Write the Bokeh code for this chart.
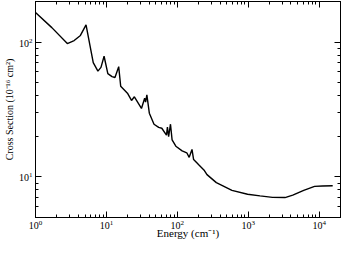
from bokeh.plotting import figure
from bokeh.models import LogAxis, FixedTicker, Range1d
from bokeh.embed import file_html
from bokeh.resources import INLINE

energy = [1.0, 1.7, 2.81, 3.51, 4.30, 5.16, 6.52, 7.59, 8.38, 9.27, 10.47, 12.0, 13.2, 14.9,
          15.9, 19.8, 22.6, 24.8, 31.2, 34.6, 35.7, 37.2, 40.3, 46.9, 54.6, 60.4, 70.3,
          72.5, 75.4, 80.1, 84.4, 95.3, 116.8, 135.9, 147.0, 161.0, 169.7, 203.6, 237.0,
          262.0, 355.0, 589.0, 979.0, 1466.0, 2197.0, 3300.0, 4247.0, 6058.0, 8614.0,
          11120.0, 15530.0]
cross = [166.0, 128.0, 97.5, 102.6, 112.0, 134.0, 70.4, 60.9, 64.9, 78.5, 58.3, 55.5, 54.6, 65.7,
         47.0, 41.8, 36.9, 39.3, 32.2, 38.3, 35.9, 40.6, 29.7, 24.6, 23.3, 22.96, 20.4,
         23.4, 19.9, 24.6, 18.8, 16.9, 15.6, 15.1, 13.98, 16.0, 13.46, 12.2, 11.27,
         10.4, 9.07, 7.94, 7.44, 7.24, 7.05, 7.03, 7.32, 7.94, 8.51, 8.56, 8.6]

x_major = [1, 10, 100, 1000, 10000]
x_minor = [m * d for d in [1, 10, 100, 1000] for m in range(2, 10)] + [20000]
y_major = [10, 100]
y_minor = [5, 6, 7, 8, 9] + [m * 10 for m in range(2, 10)] + [200]

FONT = "Liberation Serif"

p = figure(width=341, height=241, x_axis_type="log", y_axis_type="log",
           x_range=Range1d(1, 20000), y_range=Range1d(5, 200),
           output_backend="svg", toolbar_location=None,
           min_border_left=0, min_border_right=1, min_border_top=1, min_border_bottom=0)
p.background_fill_color = "white"
p.border_fill_color = "white"
p.outline_line_color = "black"
p.outline_line_width = 1
p.grid.visible = False

p.line(energy, cross, line_color="black", line_width=1.4)

def style(ax, major, minor, labels=True):
    ax.ticker = FixedTicker(ticks=major, minor_ticks=minor)
    ax.major_tick_in = 6
    ax.major_tick_out = 0
    ax.minor_tick_in = 3
    ax.minor_tick_out = 0
    ax.axis_line_color = "black"
    ax.major_tick_line_color = "black"
    ax.minor_tick_line_color = "black"
    ax.major_label_text_font = FONT
    ax.major_label_text_font_size = "10px"
    ax.major_label_text_color = "black"
    ax.axis_label_text_font = FONT
    ax.axis_label_text_font_size = "11px"
    ax.axis_label_text_font_style = "normal"
    ax.axis_label_text_color = "black"
    ax.major_label_standoff = 3
    ax.axis_label_standoff = 1
    if not labels:
        ax.major_label_overrides = {t: " " for t in major}
        ax.major_label_text_font_size = "1px"
        ax.major_label_text_alpha = 0
        ax.major_label_standoff = 0

style(p.xaxis[0], x_major, x_minor)
style(p.yaxis[0], y_major, y_minor)
p.xaxis[0].axis_label = "Energy (cm\u207b\u00b9)"
p.xaxis[0].axis_label_standoff = -5
p.xaxis[0].major_label_standoff = 2
p.yaxis[0].axis_label = "Cross Section (10\u207b\u00b9\u2076 cm\u00b2)"
p.yaxis[0].axis_label_text_font_size = "10px"

top = LogAxis()
style(top, x_major, x_minor, labels=False)
p.add_layout(top, "above")
right = LogAxis()
style(right, y_major, y_minor, labels=False)
p.add_layout(right, "right")

open("out.html", "w").write(file_html(p, INLINE))
